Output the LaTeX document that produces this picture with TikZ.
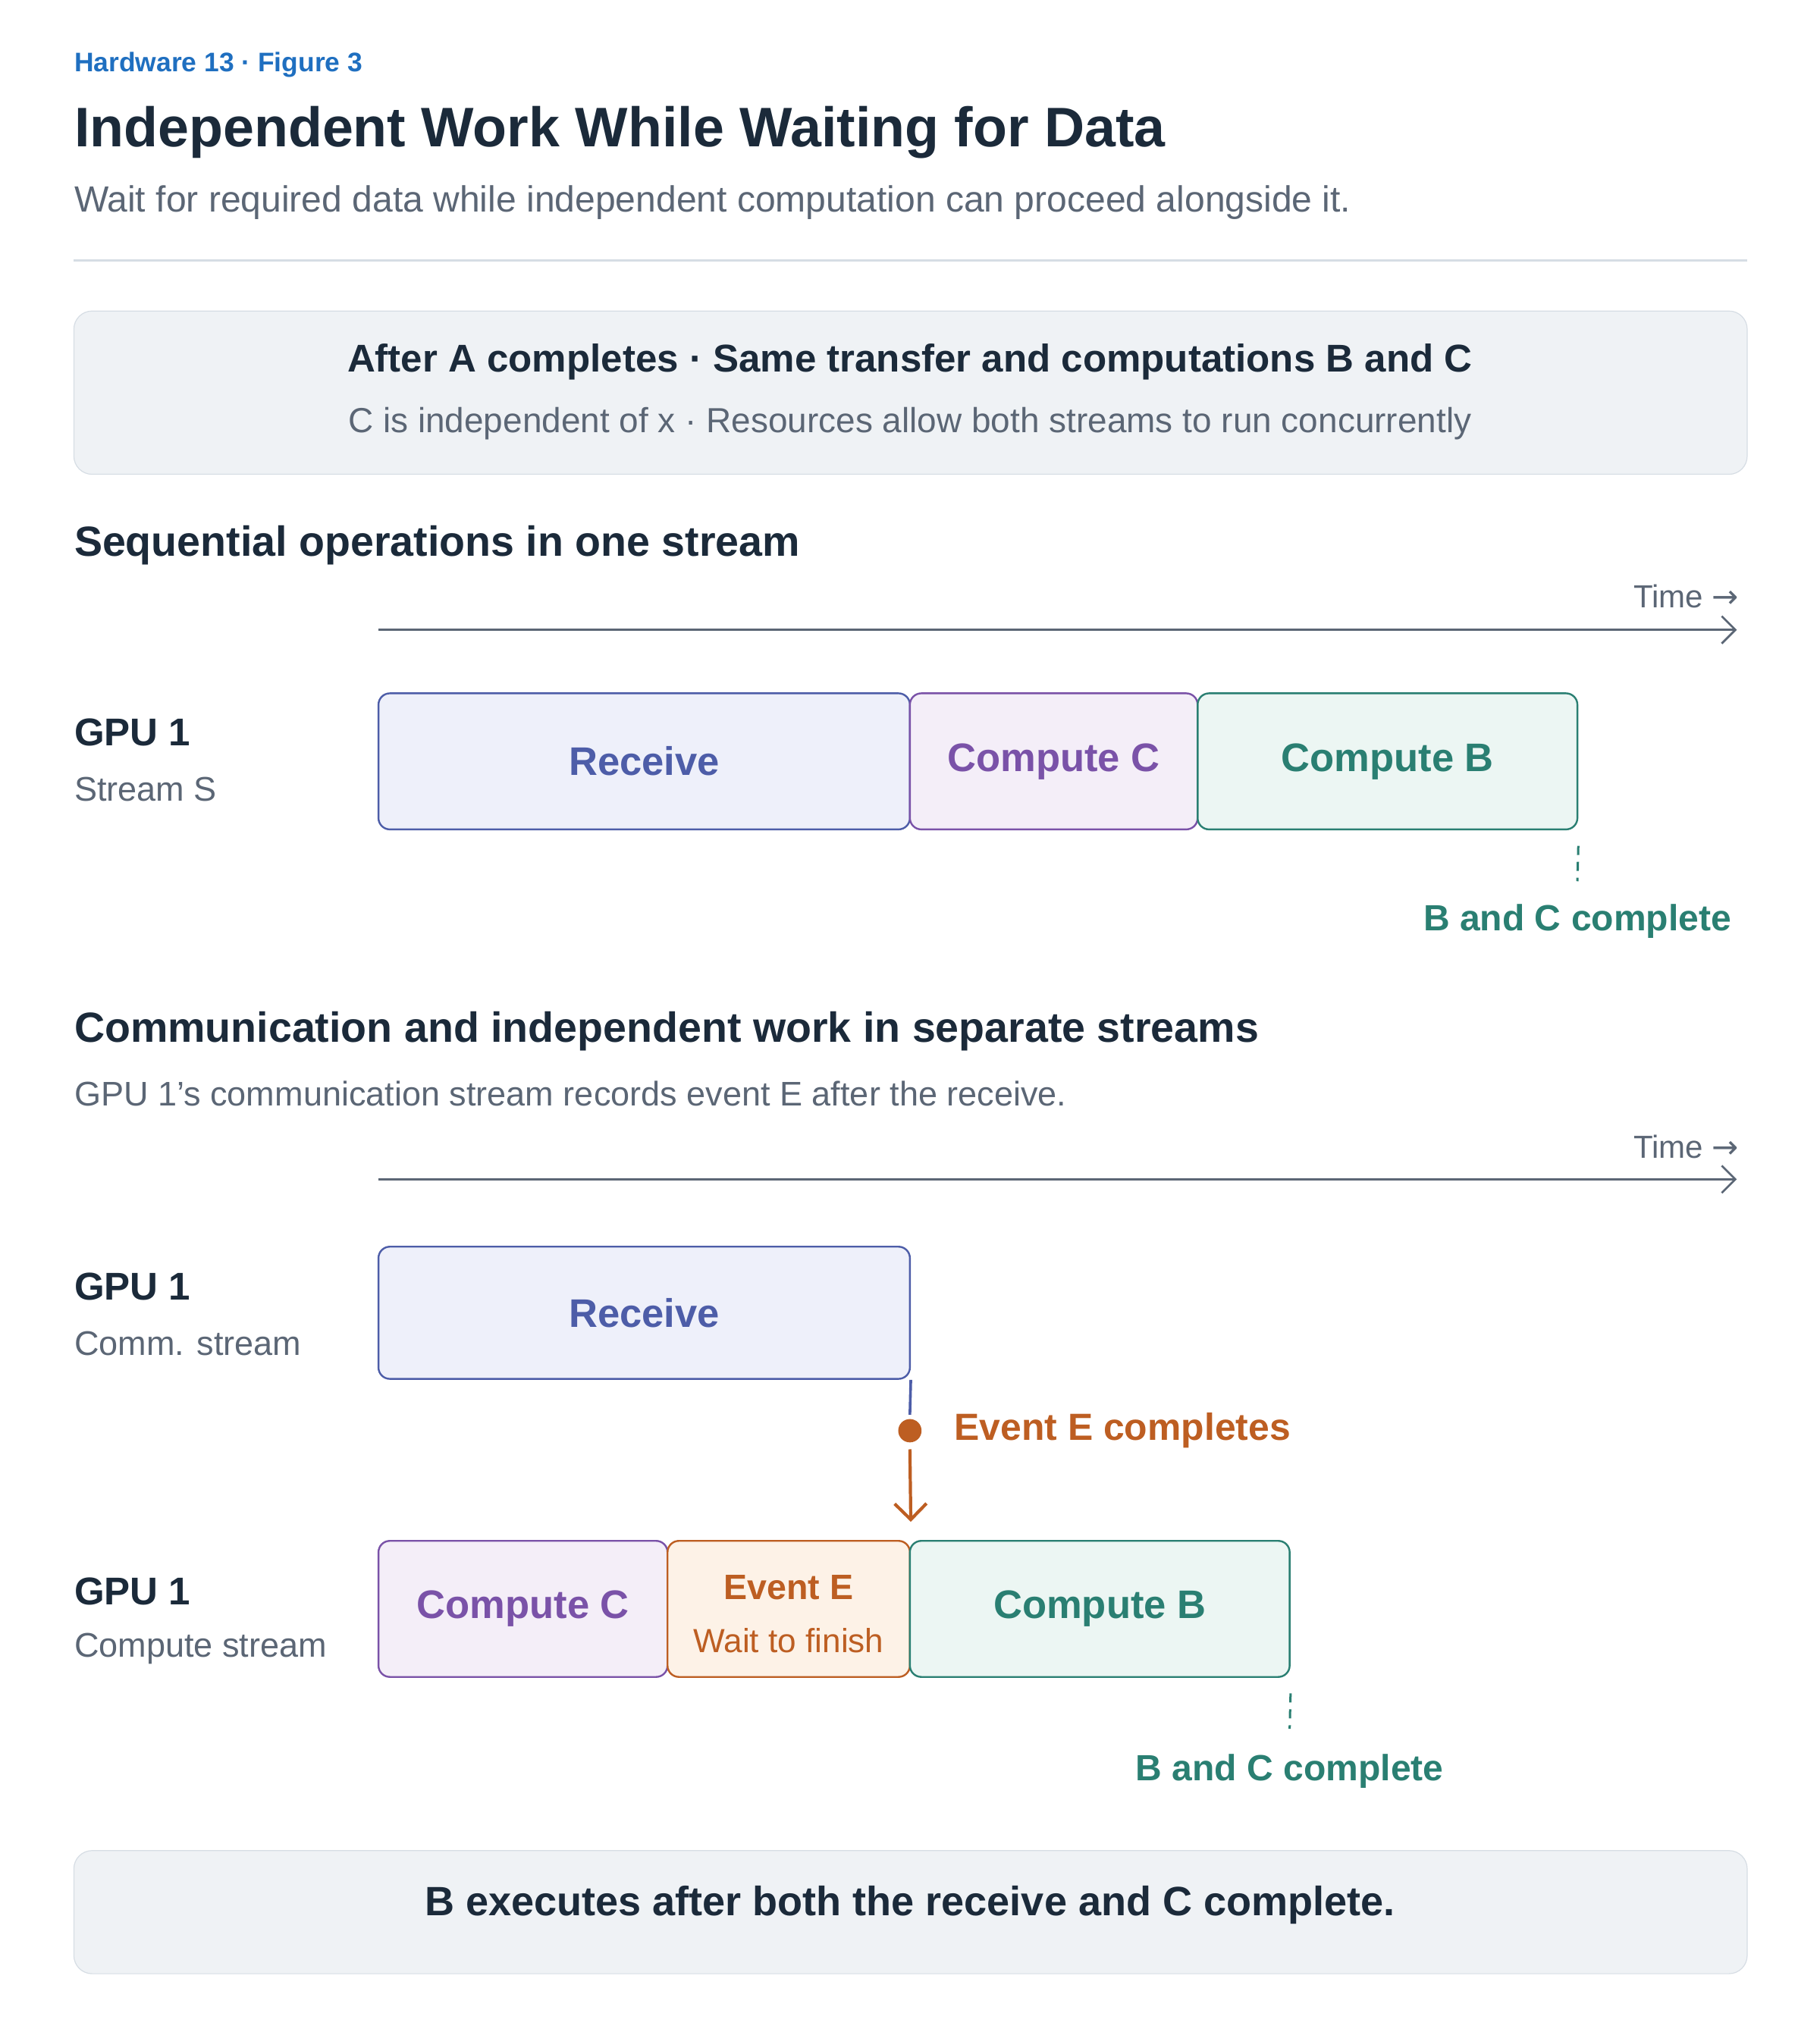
\documentclass[tikz,border=0pt]{standalone}
\usepackage{fontspec}
\setmainfont{Liberation Sans}
\newfontfamily\arrowfont{DejaVu Sans}
\usetikzlibrary{positioning,arrows.meta}
\definecolor{ink}{HTML}{1B2A3A}
\definecolor{muted}{HTML}{5B6675}
\definecolor{accent}{HTML}{1F6FC0}
\definecolor{panel}{HTML}{EFF2F5}
\definecolor{panelline}{HTML}{D6DDE4}
\definecolor{recvc}{HTML}{4D5DA8}
\definecolor{recvf}{HTML}{EEF0FA}
\definecolor{compc}{HTML}{7A52A8}
\definecolor{compf}{HTML}{F4EEF8}
\definecolor{bc}{HTML}{2A7F72}
\definecolor{bf}{HTML}{ECF6F3}
\definecolor{evc}{HTML}{BD5E22}
\definecolor{evf}{HTML}{FDF2E7}
\begin{document}
\begin{tikzpicture}[x=0.02cm, y=-0.02cm,
    lbl/.style={anchor=west, inner sep=0},
    head/.style={lbl, font=\fontsize{17}{20}\selectfont\bfseries, text=ink},
    note/.style={lbl, font=\fontsize{15}{18}\selectfont, text=muted},
    blk/.style={draw=#1c, fill=#1f, rounded corners=5pt, line width=0.8pt, text=#1c,
      font=\fontsize{17.5}{20}\selectfont\bfseries},
    axis/.style={draw=muted, line width=0.9pt, -{Straight Barb[length=6pt]}},
    tick/.style={draw=bc, line width=1pt, dash pattern=on 4pt off 3pt},
    done/.style={text=bc, font=\fontsize{16}{19}\selectfont\bfseries}
  ]
  \useasboundingbox (0,0) rectangle (1404,1568);
  % header
  \node[lbl, text=accent, font=\fontsize{11.8}{14}\selectfont\bfseries] (tag) at (57,50) {Hardware 13 · Figure 3};
  \node[lbl, text=ink, font=\fontsize{24.5}{28}\selectfont\bfseries] (title) at (57,102) {Independent Work While Waiting for Data};
  \node[note, font=\fontsize{16}{19}\selectfont] (sub) at (57,156) {Wait for required data while independent computation can proceed alongside it.};
  \draw[panelline, line width=1pt] (57,201) -- (1348,201);
  % premise
  \draw[panelline, fill=panel, rounded corners=8pt] (57,240) rectangle (1348,366);
  \node[text=ink, font=\fontsize{17}{20}\selectfont\bfseries] (prem) at (702,279) {After A completes · Same transfer and computations B and C};
  \node[text=muted, font=\fontsize{15.3}{18}\selectfont] (prem2) at (702,327) {C is independent of x · Resources allow both streams to run concurrently};

  % sequential
  \node[head, font=\fontsize{18.5}{22}\selectfont\bfseries] (seq) at (57,421) {Sequential operations in one stream};
  \node[note, anchor=east, font=\fontsize{14}{16}\selectfont] (time1) at (1342,460) {Time {\arrowfont →}};
  \coordinate (t1s) at (292,486); \coordinate (t1e) at (1340,486);
  \draw[axis] (t1s) -- (t1e);
  \node[head] (gpuA) at (57,565) {GPU 1};
  \node[note] (strS) at (57,609) {Stream S};
  \node[blk=recv, minimum width=410*0.02cm, minimum height=105*0.02cm] (recv1) at (497,587.5) {Receive};
  \node[blk=comp, minimum width=222*0.02cm, minimum height=105*0.02cm] (compC1) at (813,587.5) {Compute C};
  \node[blk=b, minimum width=293*0.02cm, minimum height=105*0.02cm] (compB1) at (1070.5,587.5) {Compute B};
  \coordinate (d1) at (1217,680);
  \draw[tick] ([yshift=-12*0.02cm]compB1.south east) -- (d1);
  \node[done] (done1) at (1217,711) {B and C complete};

  % separate streams
  \node[head, font=\fontsize{18.5}{22}\selectfont\bfseries] (sep) at (57,796) {Communication and independent work in separate streams};
  \node[note] (sepnote) at (57,844) {GPU 1{\char"27}s communication stream records event E after the receive.};
  \node[note, anchor=east, font=\fontsize{14}{16}\selectfont] (time2) at (1342,885) {Time {\arrowfont →}};
  \coordinate (t2s) at (292,910); \coordinate (t2e) at (1340,910);
  \draw[axis] (t2s) -- (t2e);
  \node[head] (gpuB) at (57,993) {GPU 1};
  \node[note] (comm) at (57,1037) {Comm. stream};
  \node[blk=recv, minimum width=410*0.02cm, minimum height=102*0.02cm] (recv2) at (497,1013) {Receive};

  \node[circle, fill=evc, inner sep=0, minimum size=18*0.02cm] (evdot) at (702,1104) {};
  \node[lbl, text=evc, font=\fontsize{16.6}{19}\selectfont\bfseries] (evlbl) at (736,1104) {Event E completes};

  \node[head] (gpuC) at (57,1228) {GPU 1};
  \node[note] (cmpstr) at (57,1272) {Compute stream};
  \node[blk=comp, minimum width=223*0.02cm, minimum height=105*0.02cm] (compC2) at (403.5,1241.5) {Compute C};
  \node[blk=ev, minimum width=187*0.02cm, minimum height=105*0.02cm] (wait) at (608.5,1241.5) {};
  \node[text=evc, font=\fontsize{15.5}{18}\selectfont\bfseries] (waitT) at (608.5,1225) {Event E};
  \node[text=evc, font=\fontsize{14.7}{17}\selectfont] (waitS) at (608.5,1266) {Wait to finish};
  \node[blk=b, minimum width=293*0.02cm, minimum height=105*0.02cm] (compB2) at (848.5,1241.5) {Compute B};

  \draw[recvc, line width=1.2pt] (recv2.south east) -- ([yshift=3*0.02cm]evdot.north);
  \draw[evc, line width=1.4pt, -{Straight Barb[length=7pt]}] ([yshift=-5*0.02cm]evdot.south) -- ([yshift=14*0.02cm]wait.north east);
  \coordinate (d2) at (995,1334);
  \draw[tick] ([yshift=-12*0.02cm]compB2.south east) -- (d2);
  \node[done] (done2) at (995,1367) {B and C complete};

  % conclusion
  \draw[panelline, fill=panel, rounded corners=8pt] (57,1428) rectangle (1348,1523);
  \node[text=ink, font=\fontsize{18}{21}\selectfont\bfseries] (concl) at (702,1470) {B executes after both the receive and C complete.};
\end{tikzpicture}
\end{document}
